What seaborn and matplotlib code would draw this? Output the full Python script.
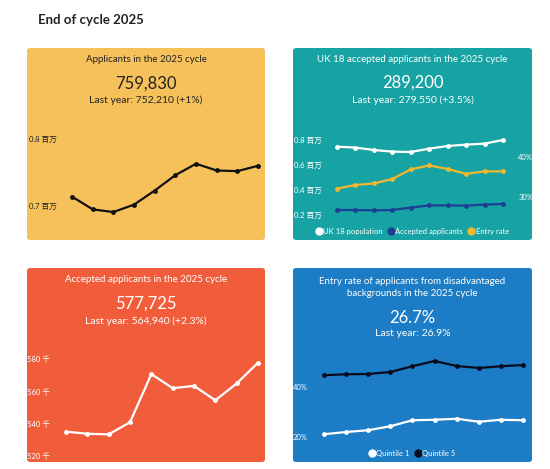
import pandas as pd
import seaborn as sns
import matplotlib.pyplot as plt
from matplotlib.patches import FancyBboxPatch
from matplotlib.lines import Line2D
from matplotlib.ticker import FuncFormatter

# ten cycles, 2016 to 2025
years = list(range(2016, 2026))

# applicants (millions)
applicants = [0.714, 0.695, 0.691, 0.702, 0.723, 0.746, 0.763, 0.753, 0.752, 0.760]
# UK 18 year olds (millions) and their entry rate (%)
uk18_population = [0.747, 0.739, 0.720, 0.707, 0.704, 0.731, 0.752, 0.763, 0.771, 0.800]
uk18_accepted = [0.240, 0.240, 0.237, 0.240, 0.259, 0.277, 0.277, 0.275, 0.283, 0.289]
uk18_entry_rate = [32.1, 33.0, 33.4, 34.5, 36.9, 37.9, 37.0, 35.8, 36.4, 36.4]
# accepted applicants (thousands)
accepted = [535.1, 533.8, 533.4, 540.9, 570.7, 562.0, 563.4, 554.5, 564.9, 577.7]
# entry rate by POLAR quintile (%)
quintile1 = [21.1, 22.0, 22.7, 24.3, 26.7, 26.9, 27.3, 26.1, 26.9, 26.7]
quintile5 = [44.7, 45.1, 45.2, 46.0, 48.3, 50.4, 48.4, 47.6, 48.3, 48.8]

df = pd.DataFrame({
    'year': years,
    'applicants': applicants,
    'uk18_population': uk18_population,
    'uk18_accepted': uk18_accepted,
    'uk18_entry_rate': uk18_entry_rate,
    'accepted': accepted,
    'quintile1': quintile1,
    'quintile5': quintile5,
})

sns.set_theme(style='white')
plt.rcParams['font.family'] = ['Lato', 'Noto Sans CJK SC', 'DejaVu Sans']

W, H = 550, 469
fig = plt.figure(figsize=(W / 100, H / 100), dpi=100)
fig.patch.set_facecolor('white')


def fx(x):
    return x / W


def fy(y):
    return 1 - y / H


def card(x0, y0, x1, y1, color):
    p = FancyBboxPatch((fx(x0), fy(y1)), (x1 - x0) / W, (y1 - y0) / H,
                       boxstyle='round,pad=0,rounding_size=0.006',
                       transform=fig.transFigure, fc=color, ec='none', zorder=0)
    fig.add_artist(p)


def make_ax(x0, y0, x1, y1, ylim):
    ax = fig.add_axes([fx(x0), fy(y1), (x1 - x0) / W, (y1 - y0) / H])
    ax.set_facecolor('none')
    for s in ax.spines.values():
        s.set_visible(False)
    ax.set_xlim(years[0], years[-1])
    ax.set_ylim(*ylim)
    ax.set_xticks([])
    ax.set_xlabel('')
    ax.set_ylabel('')
    return ax


def line(ax, col, color):
    sns.lineplot(data=df, x='year', y=col, ax=ax, color=color, marker='o',
                 markersize=3.5, markeredgewidth=0, linewidth=1.6)
    for ln in ax.lines:
        ln.set_clip_on(False)
    ax.set_xlabel('')
    ax.set_ylabel('')


def header(cx, lines, color):
    for y, txt, size in lines:
        fig.text(fx(cx), fy(y), txt, ha='center', va='center', fontsize=size, color=color)


fig.text(fx(38), fy(20), 'End of cycle 2025', fontsize=9.5, fontweight='bold',
         color='#222222', va='center')

# ---- Applicants (yellow)
card(27, 48, 265, 240, '#F6C15B')
header(146, [(59, 'Applicants in the 2025 cycle', 7),
             (84, '759,830', 12),
             (100, 'Last year: 752,210 (+1%)', 7.5)], '#222222')
ax1 = make_ax(72, 130, 258, 230, (0.6642, 0.8134))
line(ax1, 'applicants', '#111111')
ax1.set_yticks([0.7, 0.8])
ax1.yaxis.set_major_formatter(FuncFormatter(lambda v, p: f'{v:.1f} 百万'))
ax1.tick_params(axis='y', length=0, pad=11, labelsize=5.5, labelcolor='#222222')

# ---- UK 18 (teal)
card(293, 48, 532, 240, '#17A3A3')
header(412.5, [(59, 'UK 18 accepted applicants in the 2025 cycle', 7),
               (83, '289,200', 12),
               (100, 'Last year: 279,550 (+3.5%)', 7.5)], 'white')
ax2 = make_ax(337, 130, 503, 222, (0.144, 0.88))
line(ax2, 'uk18_population', 'white')
line(ax2, 'uk18_accepted', '#1C3F94')
ax2.set_yticks([0.2, 0.4, 0.6, 0.8])
ax2.yaxis.set_major_formatter(FuncFormatter(lambda v, p: f'{v:.1f} 百万'))
ax2.tick_params(axis='y', length=0, pad=11, labelsize=5.5, labelcolor='white')
ax2r = ax2.twinx()
ax2r.set_facecolor('none')
for s in ax2r.spines.values():
    s.set_visible(False)
line(ax2r, 'uk18_entry_rate', '#F0B72F')
ax2r.set_xlim(years[0], years[-1])
ax2r.set_ylim(23.75, 46.75)
ax2r.set_yticks([30, 40])
ax2r.yaxis.set_major_formatter(FuncFormatter(lambda v, p: f'{v:.0f}%'))
ax2r.tick_params(axis='y', length=0, pad=11, labelsize=5.5, labelcolor='white')
ax2r.grid(False)
fig.legend(handles=[Line2D([], [], ls='', marker='o', ms=5, color='white'),
                    Line2D([], [], ls='', marker='o', ms=5, color='#1C3F94'),
                    Line2D([], [], ls='', marker='o', ms=5, color='#F0B72F')],
           labels=['UK 18 population', 'Accepted applicants', 'Entry rate'],
           loc='center', bbox_to_anchor=(fx(412), fy(231)), ncol=3, frameon=False,
           fontsize=5.5, labelcolor='white', handletextpad=0.05, columnspacing=0.6,
           handlelength=1.0)

# ---- Accepted applicants (orange-red)
card(27, 268, 265, 462, '#F15D3B')
header(146, [(279, 'Accepted applicants in the 2025 cycle', 7),
             (304, '577,725', 12),
             (321, 'Last year: 564,940 (+2.3%)', 7.5)], 'white')
ax3 = make_ax(66, 350, 258, 458, (518.8, 585.6))
line(ax3, 'accepted', 'white')
ax3.set_yticks([520, 540, 560, 580])
ax3.yaxis.set_major_formatter(FuncFormatter(lambda v, p: f'{v:.0f} 千'))
ax3.tick_params(axis='y', length=0, pad=11.5, labelsize=5.5, labelcolor='white')

# ---- Disadvantaged backgrounds (blue)
card(293, 268, 532, 462, '#1C7CC5')
header(412.5, [(281, 'Entry rate of applicants from disadvantaged', 7),
               (293, 'backgrounds in the 2025 cycle', 7),
               (318, '26.7%', 12),
               (333, 'Last year: 26.9%', 7.5)], 'white')
ax4 = make_ax(324, 350, 523, 445, (16.8, 54.8))
line(ax4, 'quintile5', '#0B0B1E')
line(ax4, 'quintile1', 'white')
ax4.set_yticks([20, 40])
ax4.yaxis.set_major_formatter(FuncFormatter(lambda v, p: f'{v:.0f}%'))
ax4.tick_params(axis='y', length=0, pad=11.5, labelsize=5.5, labelcolor='white')
fig.legend(handles=[Line2D([], [], ls='', marker='o', ms=5, color='white'),
                    Line2D([], [], ls='', marker='o', ms=5, color='#0B0B1E')],
           labels=['Quintile 1', 'Quintile 5'],
           loc='center', bbox_to_anchor=(fx(412), fy(453)), ncol=2, frameon=False,
           fontsize=5.5, labelcolor='white', handletextpad=0.05, columnspacing=0.6,
           handlelength=1.0)

fig.savefig('out.png', dpi=100)
